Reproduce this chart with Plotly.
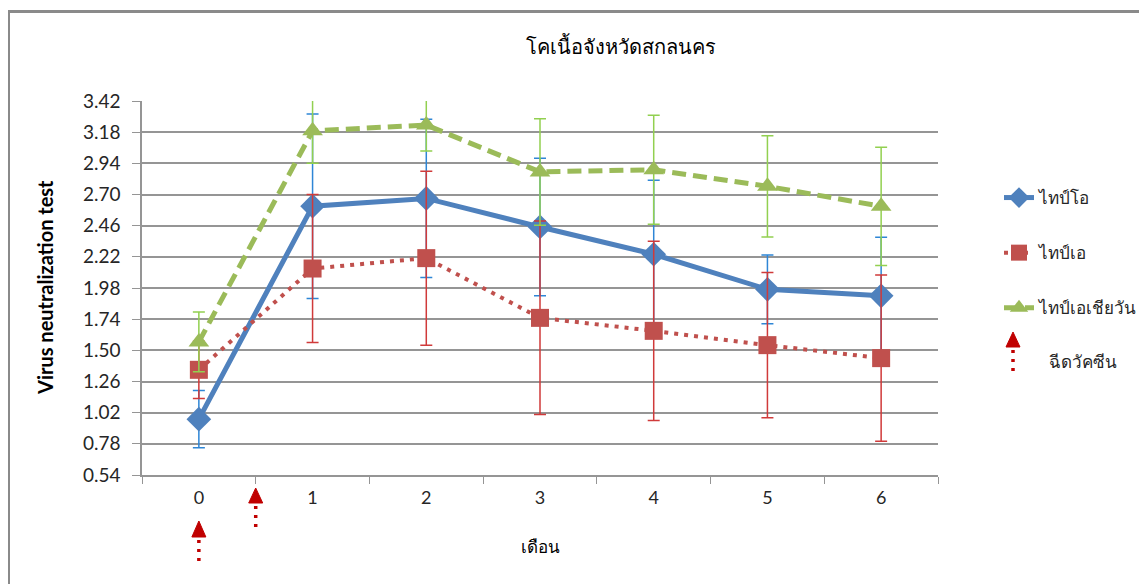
import plotly.graph_objects as go

# ---------------- data ----------------
months = ["0", "1", "2", "3", "4", "5", "6"]
series_names = ["ไทป์โอ", "ไทป์เอ", "ไทป์เอเชียวัน"]
type_o = [0.97, 2.61, 2.67, 2.45, 2.24, 1.97, 1.92]
type_o_err = [0.22, 0.71, 0.61, 0.53, 0.57, 0.265, 0.45]
type_a = [1.35, 2.13, 2.21, 1.75, 1.65, 1.54, 1.44]
type_a_err = [0.22, 0.57, 0.67, 0.745, 0.69, 0.56, 0.64]
type_asia1 = [1.565, 3.19, 3.235, 2.874, 2.891, 2.763, 2.609]
type_asia1_err = [0.23, 0.25, 0.2, 0.41, 0.42, 0.39, 0.455]
y_ticks = [0.54, 0.78, 1.02, 1.26, 1.50, 1.74, 1.98, 2.22, 2.46, 2.70, 2.94, 3.18, 3.42]
vaccination_months = [0, 0.5]  # category positions of vaccination arrows

title_text = "โคเนื้อจังหวัดสกลนคร"
x_title = "เดือน"
y_title = "Virus neutralization test"
vacc_label = "ฉีดวัคซีน"

# ---------------- layout geometry ----------------
OFF = 8  # page body margin
W, H = 1147, 584
L, R_EDGE, T, B_EDGE = 142 - OFF, 938 - OFF, 101 - OFF, 475 - OFF
PW, PH = R_EDGE - L, B_EDGE - T
FONT = "Lato, 'Noto Sans', sans-serif"
TXT = "#262626"
ARROW = "#C00000"


def px_x(px):
    return (px - OFF - L) / PW


def px_y(py):
    return (B_EDGE - (py - OFF)) / PH


cat_px = PW / len(months)

fig = go.Figure()

fig.add_trace(go.Scatter(
    x=months, y=type_o, name=series_names[0], legendgroup="o",
    mode="lines+markers",
    line=dict(color="#4F81BD", width=5),
    marker=dict(symbol="diamond", size=19, color="#4F81BD"),
    error_y=dict(type="data", array=type_o_err, color="#2E86D6", thickness=1.5, width=6),
))
fig.add_trace(go.Scatter(
    x=months, y=type_a, name=series_names[1], legendgroup="a",
    mode="lines+markers",
    line=dict(color="#C0504D", width=4, dash="4px,6px"),
    marker=dict(symbol="square", size=18, color="#C0504D"),
    error_y=dict(type="data", array=type_a_err, color="#D03A3A", thickness=1.5, width=6),
))
fig.add_trace(go.Scatter(
    x=months, y=type_asia1, name=series_names[2], legendgroup="g",
    mode="lines+markers",
    line=dict(color="#9BBB59", width=5, dash="14px,7px"),
    marker=dict(symbol="triangle-up", size=18, color="#9BBB59"),
    error_y=dict(type="data", array=type_asia1_err, color="#92D050", thickness=1.5, width=6),
))

shapes = []
# outer chart frame
shapes.append(dict(type="rect", xref="paper", yref="paper",
                   x0=px_x(8.5), x1=px_x(1170), y0=px_y(600), y1=px_y(11.5),
                   line=dict(color="#8A8A8A", width=3), fillcolor="rgba(0,0,0,0)", layer="below"))


def arrow_shapes(xval, xref, head_top, head_bot, stem_end, half_w):
    out = []
    if xref == "x":
        dx = half_w / cat_px
    else:
        dx = half_w / PW
    yt, yb, ye = px_y(head_top), px_y(head_bot), px_y(stem_end)
    out.append(dict(type="path", xref=xref, yref="paper",
                    path=f"M {xval - dx} {yb} L {xval + dx} {yb} L {xval} {yt} Z",
                    fillcolor=ARROW, line=dict(color=ARROW, width=1)))
    out.append(dict(type="line", xref=xref, yref="paper",
                    x0=xval, x1=xval, y0=px_y(head_bot + 3), y1=ye,
                    line=dict(color=ARROW, width=3.5, dash="3px,6px")))
    return out


# vaccination arrows below the x axis
shapes += arrow_shapes(vaccination_months[0], "x", 521, 537, 562, 7)
shapes += arrow_shapes(vaccination_months[1], "x", 488, 503, 528, 7)
# legend arrow
shapes += arrow_shapes(px_x(1013), "paper", 332, 347, 372, 7)

annotations = [
    dict(text=y_title, xref="paper", yref="paper", x=px_x(45), y=0.5, textangle=-90,
         showarrow=False, font=dict(family=FONT, size=20, color="#000000", weight="bold"),
         xanchor="center", yanchor="middle"),
    dict(text=x_title, xref="paper", yref="paper", x=0.5, y=px_y(546),
         showarrow=False, font=dict(family=FONT, size=17, color="#000000"),
         xanchor="center", yanchor="middle"),
    dict(text=vacc_label, xref="paper", yref="paper", x=px_x(1047), y=px_y(361),
         showarrow=False, font=dict(family=FONT, size=17, color=TXT),
         xanchor="left", yanchor="middle"),
]

fig.update_layout(
    width=W, height=H,
    margin=dict(l=L, r=W - R_EDGE, t=T, b=H - B_EDGE, autoexpand=False),
    paper_bgcolor="white", plot_bgcolor="white",
    font=dict(family=FONT, color=TXT, size=17),
    title=dict(text=title_text, x=(621 - OFF) / W, xanchor="center", y=1 - (47 - OFF) / H,
               yanchor="middle", font=dict(family=FONT, size=20, color="#000000")),
    showlegend=True,
    legend=dict(x=px_x(999), y=px_y(180), xanchor="left", yanchor="top",
                traceorder="grouped", tracegroupgap=30, font=dict(size=17, color=TXT),
                bgcolor="rgba(0,0,0,0)"),
    xaxis=dict(type="category", categoryorder="array", categoryarray=months,
               range=[-0.5, 6.5], showgrid=False, zeroline=False,
               showline=True, linecolor="#959595", linewidth=1.5,
               ticks="outside", tickson="boundaries", ticklen=7, tickcolor="#959595",
               tickfont=dict(size=18, color=TXT), ticklabelstandoff=6, fixedrange=True),
    yaxis=dict(range=[0.54, 3.42], tickvals=y_ticks, ticktext=[f"{v:.2f}" for v in y_ticks],
               showgrid=True, gridcolor="#959595", gridwidth=1.5, zeroline=False,
               showline=True, linecolor="#959595", linewidth=1.5,
               ticks="outside", ticklen=8, tickcolor="#959595",
               tickfont=dict(size=19, color=TXT), ticklabelstandoff=8, fixedrange=True),
    shapes=shapes,
    annotations=annotations,
)

fig.write_html("out.html")
